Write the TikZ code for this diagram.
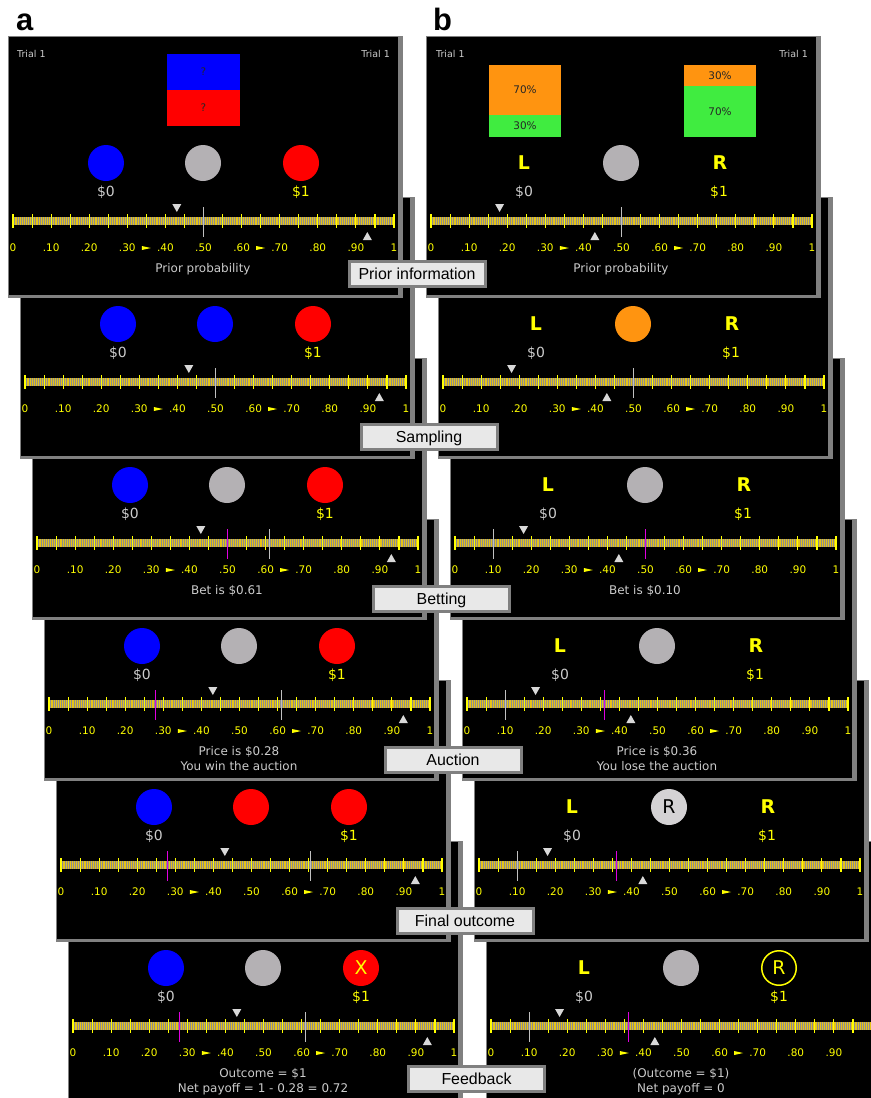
\documentclass[tikz,border=0pt]{standalone}
\usepackage{fontspec}
\setmainfont{DejaVu Sans}
\newfontfamily\btnfont{Liberation Sans}
\definecolor{bordergray}{HTML}{808080}
\definecolor{bargray}{HTML}{8C8C8C}
\definecolor{tickyellow}{HTML}{E6C418}
\definecolor{scaleyellow}{HTML}{FFFF00}
\definecolor{txtgray}{HTML}{CCCCCC}
\definecolor{ballgray}{HTML}{B4B1B4}
\definecolor{ballblue}{HTML}{0000FF}
\definecolor{ballred}{HTML}{FF0000}
\definecolor{ballorange}{HTML}{FF9410}
\definecolor{boxgreen}{HTML}{40EC40}
\definecolor{lightball}{HTML}{D4D2D4}
\definecolor{markgray}{HTML}{C0C0C0}
\definecolor{markmag}{HTML}{E000E0}
\definecolor{btnfill}{HTML}{E8E8E8}
\definecolor{tricol}{HTML}{D8D8D8}

\newcommand\screenpanel[4]{%
 \begin{scope}[shift={(#2,#3)}]
 \def\pfx{#1}%
 \fill[bordergray] (0,0) rectangle (395,262);
 \fill[black] (1,1) rectangle (390,259);
 #4
 \end{scope}}

\newcommand\moneylbls{%
 \node[money,text=txtgray] (\pfx-d0) at (98,160) {\$0};
 \node[money,text=scaleyellow] (\pfx-d1) at (293,160) {\$1};}

\newcommand\threeballs[3]{%
 \node[ball,fill=#1] (\pfx-l) at (98,127) {};
 \node[ball,fill=#2] (\pfx-m) at (195,127) {};
 \node[ball,fill=#3] (\pfx-r) at (293,127) {};
 \moneylbls}

\newcommand\lrlabels{%
 \node[lrlbl] (\pfx-L) at (98,133) {L};
 \node[lrlbl] (\pfx-R) at (294,133) {R};
 \moneylbls}

\newcommand\scalelabels{0/0,0.1/.10,0.2/.20,0.3/.30,0.4/.40,0.5/.50,0.6/.60,0.7/.70,0.8/.80,0.9/.90,1/1}

\newcommand\probscale[2]{%
 \fill[bargray] (5,181) rectangle (386,189);
 \draw[minortick] \foreach \k in {0,...,200}{({5+1.905*\k},181) -- ++(0,8)};
 \draw[majortick] \foreach \k in {0,...,20}{({5+19.05*\k},178) -- ++(0,14)};
 \foreach \v/\t in \scalelabels
   \node[ticklbl] at ({5+381*\v},215.5) {\t};
 \foreach \v in {0.35,0.65}
   \fill[scaleyellow] ({5+381*\v-4.5},210) -- ++(9,2) -- ++(-9,2) -- cycle;
 \fill[tricol] ({5+381*#1-4.5},168) -- ++(9,0) -- ({5+381*#1},176) -- cycle;
 \fill[tricol] ({5+381*#2-4.5},204) -- ++(9,0) -- ({5+381*#2},196) -- cycle;}

\newcommand\markline[2]{\fill[#2] ({floor(5+381*#1)-0.2},171) rectangle ++(1.4,30);}
\newcommand\msgone[1]{\node[msg] (\pfx-msg1) at (195,236) {#1};}
\newcommand\msgtwo[1]{\node[msg] (\pfx-msg2) at (195,251) {#1};}

\begin{document}
\begin{tikzpicture}[x=1bp,y=-1bp,
 ball/.style={circle, minimum size=36bp, inner sep=0pt},
 trialtxt/.style={inner sep=0pt, text=txtgray, font=\fontsize{9.5}{11}\selectfont},
 money/.style={anchor=base, inner sep=0pt, font=\fontsize{14}{16}\selectfont},
 ticklbl/.style={anchor=base, inner sep=0pt, text=scaleyellow, font=\fontsize{10.5}{12}\selectfont},
 msg/.style={anchor=base, inner sep=0pt, text=txtgray, font=\fontsize{12}{14}\selectfont},
 lrlbl/.style={anchor=base, inner sep=0pt, text=scaleyellow, font=\bfseries\fontsize{19}{21}\selectfont},
 pct/.style={inner sep=0pt, text=black!85, font=\fontsize{10.5}{12}\selectfont},
 minortick/.style={tickyellow, line width=0.7bp},
 majortick/.style={scaleyellow, line width=1.1bp},
 btn/.style={draw=bordergray, line width=3bp, fill=btnfill, minimum width=136bp, minimum height=25bp, inner sep=0pt, text height=11.5pt, text depth=0pt, font=\btnfont\fontsize{16}{18}\selectfont},
 panellbl/.style={anchor=base west, inner sep=0pt, font=\btnfont\bfseries\fontsize{31}{33}\selectfont}]
\useasboundingbox (0,0) rectangle (871,1098);
\clip (0,0) rectangle (871,1098);
\fill[white] (0,0) rectangle (871,1098);

% ---------- column a (drawn from last to first) ----------
\screenpanel{a6}{68}{841}{%
 \threeballs{ballblue}{ballgray}{ballred}
 \node[text=scaleyellow, font=\fontsize{19}{21}\selectfont] (a6-x) at (293,127) {X};
 \probscale{0.43}{0.93}
 \markline{0.61}{markgray}\markline{0.28}{markmag}
 \msgone{Outcome = \$1}\msgtwo{Net payoff = 1 - 0.28 = 0.72}}
\screenpanel{a5}{56}{680}{%
 \threeballs{ballblue}{ballred}{ballred}
 \probscale{0.43}{0.93}
 \markline{0.655}{markgray}\markline{0.28}{markmag}}
\screenpanel{a4}{44}{519}{%
 \threeballs{ballblue}{ballgray}{ballred}
 \probscale{0.43}{0.93}
 \markline{0.61}{markgray}\markline{0.28}{markmag}
 \msgone{Price is \$0.28}\msgtwo{You win the auction}}
\screenpanel{a3}{32}{358}{%
 \threeballs{ballblue}{ballgray}{ballred}
 \probscale{0.43}{0.93}
 \markline{0.61}{markgray}\markline{0.5}{markmag}
 \msgone{Bet is \$0.61}}
\screenpanel{a2}{20}{197}{%
 \threeballs{ballblue}{ballblue}{ballred}
 \probscale{0.43}{0.93}
 \markline{0.5}{markgray}}
\screenpanel{a1}{8}{36}{%
 \node[trialtxt, anchor=base west] (a1-t1) at (9,21) {Trial 1};
 \node[trialtxt, anchor=base east] (a1-t2) at (382,21) {Trial 1};
 \fill[ballblue] (159,18) rectangle (232,54);
 \fill[ballred] (159,54) rectangle (232,90);
 \node[pct] (a1-q1) at (195.5,36) {?};
 \node[pct] (a1-q2) at (195.5,72) {?};
 \threeballs{ballblue}{ballgray}{ballred}
 \probscale{0.43}{0.93}
 \markline{0.5}{markgray}
 \msgone{Prior probability}}

% ---------- column b ----------
\screenpanel{b6}{486}{841}{%
 \def\scalelabels{0/0,0.1/.10,0.2/.20,0.3/.30,0.4/.40,0.5/.50,0.6/.60,0.7/.70,0.8/.80,0.9/.90}%
 \node[ball,fill=ballgray] (b6-m) at (195,127) {};
 \node[ball,fill=black,draw=scaleyellow,line width=1.5bp,minimum size=34.5bp] (b6-r) at (293,127) {};
 \node[text=scaleyellow, font=\fontsize{19}{21}\selectfont] (b6-rr) at (293,127) {R};
 \node[lrlbl] (b6-L) at (98,133) {L};
 \moneylbls
 \probscale{0.18}{0.43}
 \markline{0.10}{markgray}\markline{0.36}{markmag}
 \msgone{(Outcome = \$1)}\msgtwo{Net payoff = 0}}
\screenpanel{b5}{474}{680}{%
 \node[ball,fill=lightball] (b5-m) at (195,127) {};
 \node[font=\fontsize{19}{21}\selectfont] (b5-mr) at (195,127) {R};
 \lrlabels
 \probscale{0.18}{0.43}
 \markline{0.10}{markgray}\markline{0.36}{markmag}}
\screenpanel{b4}{462}{519}{%
 \node[ball,fill=ballgray] (b4-m) at (195,127) {};
 \lrlabels
 \probscale{0.18}{0.43}
 \markline{0.10}{markgray}\markline{0.36}{markmag}
 \msgone{Price is \$0.36}\msgtwo{You lose the auction}}
\screenpanel{b3}{450}{358}{%
 \node[ball,fill=ballgray] (b3-m) at (195,127) {};
 \lrlabels
 \probscale{0.18}{0.43}
 \markline{0.10}{markgray}\markline{0.5}{markmag}
 \msgone{Bet is \$0.10}}
\screenpanel{b2}{438}{197}{%
 \node[ball,fill=ballorange] (b2-m) at (195,127) {};
 \lrlabels
 \probscale{0.18}{0.43}
 \markline{0.5}{markgray}}
\screenpanel{b1}{426}{36}{%
 \node[trialtxt, anchor=base west] (b1-t1) at (10,21) {Trial 1};
 \node[trialtxt, anchor=base east] (b1-t2) at (382,21) {Trial 1};
 \fill[ballorange] (63,29) rectangle (135,79);
 \fill[boxgreen] (63,79) rectangle (135,101);
 \fill[ballorange] (258,29) rectangle (330,50);
 \fill[boxgreen] (258,50) rectangle (330,101);
 \node[pct] (b1-p1) at (99,54) {70\%};
 \node[pct] (b1-p2) at (99,90) {30\%};
 \node[pct] (b1-p3) at (294,39.5) {30\%};
 \node[pct] (b1-p4) at (294,75.5) {70\%};
 \node[ball,fill=ballgray] (b1-m) at (195,127) {};
 \lrlabels
 \probscale{0.18}{0.43}
 \markline{0.5}{markgray}
 \msgone{Prior probability}}

% ---------- stage buttons ----------
\node[btn] (s1) at (417,273.5) {Prior information};
\node[btn] (s2) at (429,436.5) {Sampling};
\node[btn] (s3) at (441.5,598.5) {Betting};
\node[btn] (s4) at (453,760) {Auction};
\node[btn] (s5) at (465,921) {Final outcome};
\node[btn] (s6) at (476.5,1078.5) {Feedback};

% ---------- panel letters ----------
\node[panellbl] (lbl-a) at (16,30) {a};
\node[panellbl] (lbl-b) at (433,30) {b};
\end{tikzpicture}
\end{document}
